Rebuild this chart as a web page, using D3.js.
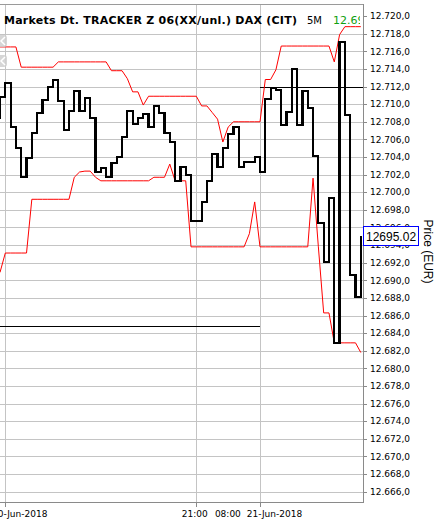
<!DOCTYPE html>
<html><head><meta charset="utf-8">
<script src="https://cdn.jsdelivr.net/npm/d3@7"></script>
<style>
html,body{margin:0;padding:0;background:#fff;overflow:hidden}
svg{display:block}
</style></head><body>
<script>
// ---- data ----
const closeStart = -2; // bar index of first close (bar 0 = 18:00 20-Jun-2018, 5-minute bars)
const closes = [
  12708.40, 12710.85, 12712.44, 12707.44, 12704.99, 12701.76, 12703.85, 12706.76, 12709.03, 12710.47,
  12711.92, 12712.74, 12710.36, 12707.07, 12709.26, 12711.50, 12709.26, 12710.67, 12708.40, 12702.33,
  12702.79, 12701.76, 12703.29, 12703.97, 12706.31, 12709.26, 12707.75, 12708.40, 12708.88, 12707.37,
  12709.79, 12709.03, 12706.69, 12705.74, 12701.31, 12702.83, 12701.96, 12696.77, 12696.77, 12698.93,
  12701.31, 12704.31, 12702.83, 12704.99, 12706.61, 12707.37, 12702.83, 12703.47, 12703.47, 12703.97,
  12702.26, 12710.55, 12711.80, 12711.61, 12707.63, 12709.15, 12713.96, 12707.63, 12711.50, 12709.60,
  12704.15, 12696.47, 12692.11, 12699.38, 12682.85, 12717.09, 12708.77, 12690.60, 12688.14, 12695.02
];
const bandStart = -1;
const upperBand = [
  12716.5, 12716.5, 12716.5, 12716.5, 12714.2, 12714.2, 12714.2, 12714.2, 12714.2, 12714.2,
  12714.2, 12714.8, 12714.8, 12714.8, 12714.8, 12714.8, 12714.8, 12714.8, 12714.8, 12714.8,
  12714.8, 12713.8, 12713.8, 12713.8, 12712.9, 12711.4, 12711.4, 12709.9, 12710.9, 12710.9,
  12710.9, 12710.9, 12710.9, 12710.9, 12710.9, 12710.9, 12710.9, 12710.9, 12709.8, 12709.8,
  12709.05, 12708.3, 12705.7, 12707.4, 12708.0, 12708.0, 12708.0, 12708.0, 12708.0, 12708.0,
  12712.8, 12712.8, 12713.9, 12716.6, 12716.6, 12716.6, 12716.6, 12716.6, 12716.6, 12716.6,
  12716.6, 12716.6, 12716.6, 12714.8, 12717.9, 12718.8, 12718.8, 12718.8, 12718.8
];
const lowerBand = [
  12690.9, 12693.1, 12693.1, 12693.1, 12693.1, 12693.1, 12699.2, 12699.2, 12699.2, 12699.2,
  12699.2, 12699.2, 12699.2, 12699.2, 12701.7, 12702.3, 12702.4, 12702.4, 12701.7, 12701.3,
  12701.3, 12701.3, 12701.3, 12701.3, 12701.3, 12701.3, 12701.3, 12701.3, 12701.3, 12701.7,
  12701.7, 12701.7, 12703.2, 12701.3, 12701.3, 12701.3, 12693.8, 12693.8, 12693.8, 12693.8,
  12693.8, 12693.8, 12693.8, 12693.8, 12693.8, 12693.8, 12693.8, 12695.3, 12698.9, 12693.8,
  12693.8, 12693.8, 12693.8, 12693.8, 12693.8, 12693.8, 12693.8, 12693.8, 12693.8, 12701.6,
  12693.8, 12686.3, 12686.3, 12682.9, 12682.9, 12682.9, 12682.9, 12682.9, 12681.8
];
const refLevels = [12684.85, 12712.0];
const refFrom = [-1, 48];
const refTo = [48, 68];
const xTickIndex = [0, 36, 48];
const xTickLabels = ["18:00 20-Jun-2018", "21:00", "08:00 21-Jun-2018"];
const yTicks = d3.range(12666, 12720.01, 2);
const lastPrice = 12695.02;
const titleText = "Markets Dt. TRACKER Z 06(XX/unl.) DAX (CIT)";
const periodText = "5M";
const yAxisTitle = "Price (EUR)";

// ---- layout ----
const W = 441, H = 523, plotL = 0, plotR = 363, plotT = 4.3, plotB = 502;
const svg = d3.select("body").append("svg").attr("width", W).attr("height", H);

const x = d3.scaleLinear().domain([0, 48]).range([5.3, 260]);
const y = d3.scaleLinear().domain([12666, 12720]).range([491.7, 16.1]);
const de = d3.formatLocale({decimal: ",", thousands: ".", grouping: [3], currency: ["", "€"]});
const fmtAxis = de.format(",.1f");

const defs = svg.append("defs");
defs.append("clipPath").attr("id", "plot").append("rect")
  .attr("x", plotL).attr("y", plotT).attr("width", plotR - plotL).attr("height", plotB - plotT);
defs.append("clipPath").attr("id", "titleclip").append("rect")
  .attr("x", plotL).attr("y", plotT).attr("width", 360 - plotL).attr("height", 30);

const g = svg.append("g").attr("clip-path", "url(#plot)");
const px = v => Math.round(v) + 0.5;

// grid
g.selectAll("line.hg").data(yTicks.filter(v => v < 12720)).join("line").attr("class", "hg")
  .attr("x1", plotL).attr("x2", plotR)
  .attr("y1", d => px(y(d))).attr("y2", d => px(y(d)))
  .attr("stroke", "#c4c4c4").attr("shape-rendering", "crispEdges");
g.selectAll("line.vg").data(xTickIndex).join("line").attr("class", "vg")
  .attr("x1", d => px(x(d))).attr("x2", d => px(x(d)))
  .attr("y1", plotT).attr("y2", plotB)
  .attr("stroke", "#c4c4c4").attr("shape-rendering", "crispEdges");

// reference lines
g.selectAll("line.ref").data(refLevels).join("line").attr("class", "ref")
  .attr("x1", (d, i) => x(refFrom[i])).attr("x2", (d, i) => x(refTo[i]))
  .attr("y1", d => px(y(d))).attr("y2", d => px(y(d)))
  .attr("stroke", "#000").attr("stroke-width", 1).attr("shape-rendering", "crispEdges");

// bands
const bandLine = d3.line().x(d => x(d.i)).y(d => y(d.v));
const up = upperBand.map((v, k) => ({i: bandStart + k, v}));
const lo = lowerBand.map((v, k) => ({i: bandStart + k, v}));
[up, lo].forEach(s => g.append("path").attr("d", bandLine(s))
  .attr("fill", "none").attr("stroke", "#ff0000").attr("stroke-width", 1));

// close step line
const cl = closes.map((v, k) => ({i: closeStart + k, v}));
g.append("path").attr("d", d3.line().curve(d3.curveStepAfter).x(d => x(d.i)).y(d => y(d.v))(cl))
  .attr("fill", "none").attr("stroke", "#000").attr("stroke-width", 2.2)
  .attr("stroke-linejoin", "miter").attr("shape-rendering", "crispEdges");

// navigation buttons (partly off-canvas)
[35, 55].forEach(t => {
  g.append("rect").attr("x", -7).attr("y", t).attr("width", 14).attr("height", 12).attr("rx", 3)
    .attr("fill", "#cfcfcf").attr("opacity", 0.85);
  g.append("path").attr("d", `M5,${t + 2} L1,${t + 6} L5,${t + 10}`).attr("fill", "none")
    .attr("stroke", "#fff").attr("stroke-width", 1.5);
});

// frame
svg.append("line").attr("x1", plotL).attr("x2", plotR + 0.5).attr("y1", 4.5).attr("y2", 4.5)
  .attr("stroke", "#9a9a9a").attr("shape-rendering", "crispEdges");
svg.append("line").attr("x1", plotR + 0.5).attr("x2", plotR + 0.5).attr("y1", 4).attr("y2", plotB + 0.5)
  .attr("stroke", "#8a8a8a").attr("shape-rendering", "crispEdges");
svg.append("line").attr("x1", plotL).attr("x2", plotR + 0.5).attr("y1", plotB + 0.5).attr("y2", plotB + 0.5)
  .attr("stroke", "#8a8a8a").attr("shape-rendering", "crispEdges");

// y axis
const ya = svg.append("g");
ya.selectAll("line").data(yTicks).join("line")
  .attr("x1", plotR).attr("x2", plotR + 4)
  .attr("y1", d => px(y(d))).attr("y2", d => px(y(d)))
  .attr("stroke", "#8a8a8a").attr("shape-rendering", "crispEdges");
ya.selectAll("text").data(yTicks).join("text")
  .attr("x", 370).attr("y", d => y(d) + 3.2)
  .attr("font-family", "DejaVu Sans, Verdana, sans-serif").attr("font-size", 9)
  .attr("fill", "#000").text(d => fmtAxis(d));

// x axis
const xa = svg.append("g");
xa.selectAll("line").data(xTickIndex).join("line")
  .attr("x1", d => px(x(d))).attr("x2", d => px(x(d)))
  .attr("y1", plotB).attr("y2", plotB + 5)
  .attr("stroke", "#8a8a8a").attr("shape-rendering", "crispEdges");
xa.selectAll("text").data(xTickIndex).join("text")
  .attr("x", d => x(d) - 1.5).attr("y", 517)
  .attr("text-anchor", "middle")
  .attr("font-family", "DejaVu Sans, Verdana, sans-serif").attr("font-size", 9)
  .attr("word-spacing", 3)
  .attr("fill", "#000").text((d, i) => xTickLabels[i]);

// axis title
svg.append("text").attr("transform", "translate(423.5,251.5) rotate(90)")
  .attr("text-anchor", "middle")
  .attr("font-family", "Liberation Sans, Arial, sans-serif").attr("font-size", 12)
  .attr("fill", "#000").text(yAxisTitle);

// last price box
svg.append("rect").attr("x", 363.5).attr("y", 226.5).attr("width", 55).attr("height", 18.5)
  .attr("fill", "#fff").attr("stroke", "#0000ff").attr("shape-rendering", "crispEdges");
svg.append("text").attr("x", 366).attr("y", y(lastPrice) + 4.4)
  .attr("font-family", "Liberation Sans, Arial, sans-serif").attr("font-size", 12)
  .attr("fill", "#000").text(d3.format(".2f")(lastPrice));

// title
const tg = svg.append("g").attr("clip-path", "url(#titleclip)");
tg.append("text").attr("x", 4).attr("y", 24)
  .attr("font-family", "DejaVu Sans, Verdana, sans-serif").attr("font-size", 11)
  .attr("font-weight", "bold").attr("letter-spacing", 0.25)
  .attr("fill", "#000").text(titleText);
tg.append("text").attr("x", 307).attr("y", 23.5)
  .attr("font-family", "DejaVu Sans, Verdana, sans-serif").attr("font-size", 10)
  .attr("fill", "#000").text(periodText);
tg.append("text").attr("x", 333).attr("y", 23.5)
  .attr("font-family", "DejaVu Sans, Verdana, sans-serif").attr("font-size", 11)
  .attr("fill", "#10a010").text(de.format(",.2f")(lastPrice));
</script>
</body></html>
